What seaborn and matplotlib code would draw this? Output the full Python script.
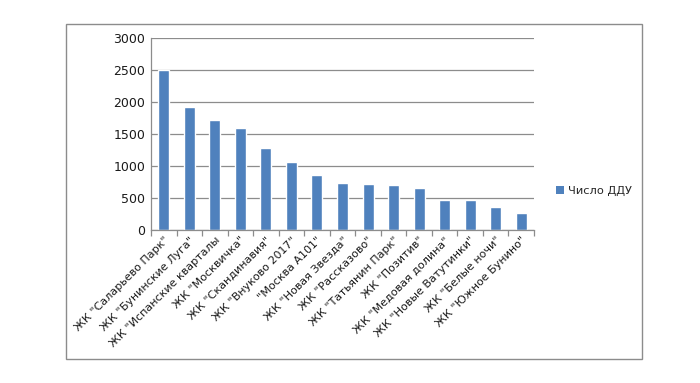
import matplotlib
matplotlib.use("Agg")
import matplotlib.pyplot as plt
import seaborn as sns
import pandas as pd
from matplotlib.patches import Rectangle, Patch

categories = ['ЖК "Саларьево Парк"', 'ЖК "Бунинские Луга"', 'ЖК "Испанские кварталы',
              'ЖК "Москвичка"', 'ЖК "Скандинавия"', 'ЖК "Внуково 2017"', '"Москва А101"',
              'ЖК "Новая Звезда"', 'ЖК "Рассказово"', 'ЖК "Татьянин Парк"', 'ЖК "Позитив"',
              'ЖК "Медовая долина"', 'ЖК "Новые Ватутинки"', 'ЖК "Белые ночи"', 'ЖК "Южное Бунино"']
values = [2500, 1910, 1710, 1585, 1268, 1049, 845, 720, 704, 689, 642, 459, 459, 349, 255]
series_name = "Число ДДУ"
yticks = [0, 500, 1000, 1500, 2000, 2500, 3000]

sns.set_theme(style="white")
plt.rcParams['font.family'] = ['DejaVu Sans']

df = pd.DataFrame({"cat": categories, "val": values})

fig = plt.figure(figsize=(7, 3.83), dpi=100)
fig.patch.set_facecolor("white")
ax = fig.add_axes([151/700, 1-229.5/383, (534-151)/700, (229.5-37.7)/383])

sns.barplot(data=df, x="cat", y="val", color="#4F81BD", width=0.43, saturation=1, ax=ax)

ax.set_ylim(0, 3000)
ax.set_xlim(-0.5, len(categories) - 0.5)
ax.set_yticks(yticks)
ax.set_yticklabels([str(t) for t in yticks], fontsize=9, color="#1a1a1a")
ax.yaxis.grid(True, color="#8c8c8c", linewidth=0.9)
ax.set_axisbelow(True)
ax.set_xlabel("")
ax.set_ylabel("")

ax.set_xticks(range(len(categories)))
ax.set_xticklabels(categories, rotation=45, ha="right", rotation_mode="anchor",
                   fontsize=8, color="#1a1a1a")
ax.tick_params(axis="x", which="major", length=0, pad=4)
ax.set_xticks([i - 0.5 for i in range(len(categories) + 1)], minor=True)
ax.tick_params(axis="x", which="minor", length=4, color="#8c8c8c", width=0.9, direction="out", bottom=True)
ax.tick_params(axis="y", length=0, pad=4)

for s in ["top", "right"]:
    ax.spines[s].set_visible(False)
for s in ["left", "bottom"]:
    ax.spines[s].set_color("#8c8c8c")
    ax.spines[s].set_linewidth(0.9)

# outer chart frame
fig.add_artist(Rectangle((65.5/700, 1-358.5/383), (641.5-65.5)/700, (358.5-23.7)/383,
                         transform=fig.transFigure, fill=False, edgecolor="#8c8c8c", linewidth=1.0))

handles = [Patch(facecolor="#4F81BD", edgecolor="none", label=series_name)]
fig.legend(handles=handles, loc="center left", bbox_to_anchor=(546/700, 1-191/383),
           frameon=False, fontsize=8.2, handlelength=0.7, handleheight=0.7, handletextpad=0.3)

fig.savefig("out.png", dpi=100, facecolor="white")
